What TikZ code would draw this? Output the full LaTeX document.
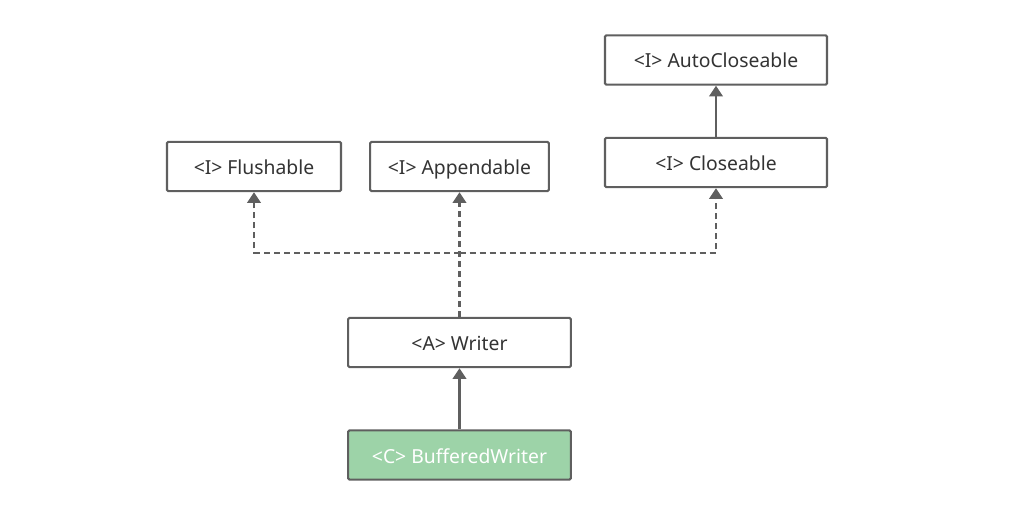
\documentclass[tikz,border=0pt]{standalone}
\usepackage{fontspec}
\setmainfont{Noto Sans}
\usetikzlibrary{arrows.meta}

\definecolor{linegray}{HTML}{5F5F5F}
\definecolor{textgray}{HTML}{333333}
\definecolor{classgreen}{HTML}{9DD3A8}

\begin{document}
\begin{tikzpicture}[x=0.75pt, y=-0.75pt,
    box/.style={draw=linegray, line width=1.6pt, rounded corners=1pt, fill=white,
        text=textgray, font=\fontsize{14.5}{17}\selectfont, inner sep=0pt,
        text height=12pt, text depth=0pt, minimum height=37pt},
    impl/.style={draw=linegray, line width=2pt, dash pattern=on 4.5pt off 3pt,
        -{Triangle[length=8pt, width=10pt]}},
    extend/.style={draw=linegray, line width=2pt, -{Triangle[length=8pt, width=10pt]}}]
    \useasboundingbox (0,0) rectangle (1030,509);

    % Interfaces at the top
    \node[box, minimum width=130.5pt] (flush) at (254,166.5) {<I> Flushable};
    \node[box, minimum width=134pt] (append) at (459.5,166.5) {<I> Appendable};
    \node[box, minimum width=166.5pt] (close) at (716,162.5) {<I> Closeable};
    \node[box, minimum width=166.5pt] (autoclose) at (716,60) {<I> AutoCloseable};

    % Abstract class and concrete class
    \node[box, minimum width=167pt] (writer) at (459.5,342.5) {<A> Writer};
    \node[box, minimum width=167pt, fill=classgreen, text=white] (buffered) at (459.5,455) {<C> BufferedWriter};

    % Junction of the dashed lines
    \coordinate (split) at (459.5,253);

    % Implemented interfaces
    \draw[impl] (writer.north) -- (append.south);
    \draw[impl] (split) -| (flush.south);
    \draw[impl] (split) -| (close.south);

    % Inheritance
    \draw[extend] (close.north) -- (autoclose.south);
    \draw[extend] (buffered.north) -- (writer.south);
\end{tikzpicture}
\end{document}
